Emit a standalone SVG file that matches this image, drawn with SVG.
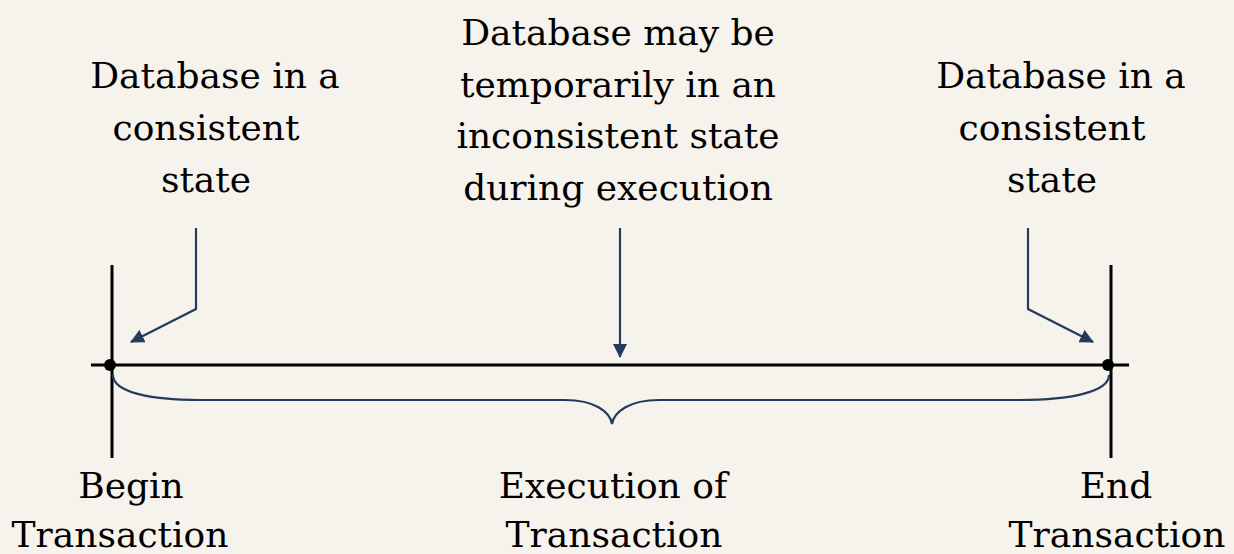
<svg xmlns="http://www.w3.org/2000/svg" width="1234" height="554" viewBox="0 0 1234 554">
<defs>
<style>
.t{font-family:"DejaVu Serif","Liberation Serif",serif;font-size:36px;fill:#000;text-anchor:middle}
.blk{stroke:#000;stroke-width:3;fill:none}
.nav{stroke:#243b5b;stroke-width:2.2;fill:none}
</style>
<marker id="ah" viewBox="0 0 14 14" refX="13" refY="7" markerWidth="14" markerHeight="14" markerUnits="userSpaceOnUse" orient="auto">
<path d="M0,0 L14,7 L0,14 Z" fill="#243b5b"/>
</marker>
</defs>
<rect width="1234" height="554" fill="#f6f2ec"/>
<g id="timeline">
<line class="blk" x1="91" y1="365" x2="1129" y2="365"/>
<line class="blk" x1="112" y1="265" x2="112" y2="458"/>
<line class="blk" x1="1111" y1="265" x2="1111" y2="458"/>
<circle cx="110" cy="365" r="6" fill="#000"/>
<circle cx="1108" cy="365" r="6" fill="#000"/>
</g>
<g id="connectors">
<polyline class="nav" points="196,228 196,309 131,342" marker-end="url(#ah)"/>
<polyline class="nav" points="1028,228 1028,309 1093,342" marker-end="url(#ah)"/>
<line class="nav" x1="620" y1="228" x2="620" y2="357" marker-end="url(#ah)"/>
<path class="nav" d="M113,375 C113,392 150,400 200,400 L565,400 C595,400 610,412 612,424 C614,412 629,400 659,400 L1020,400 C1070,400 1109,392 1109,375"/>
</g>
<g id="label-start-state">
<text class="t" x="215" y="88">Database in a</text>
<text class="t" x="206" y="140">consistent</text>
<text class="t" x="206" y="192">state</text>
</g>
<g id="label-during">
<text class="t" x="618" y="45">Database may be</text>
<text class="t" x="618" y="97">temporarily in an</text>
<text class="t" x="618" y="148">inconsistent state</text>
<text class="t" x="618" y="200">during execution</text>
</g>
<g id="label-end-state">
<text class="t" x="1061" y="88">Database in a</text>
<text class="t" x="1052" y="140">consistent</text>
<text class="t" x="1052" y="192">state</text>
</g>
<g id="begin">
<text class="t" x="131" y="498">Begin</text>
<text class="t" x="120" y="547">Transaction</text>
</g>
<g id="execution">
<text class="t" x="613" y="498">Execution of</text>
<text class="t" x="614" y="547">Transaction</text>
</g>
<g id="end">
<text class="t" x="1116" y="498">End</text>
<text class="t" x="1117" y="547">Transaction</text>
</g>
</svg>
